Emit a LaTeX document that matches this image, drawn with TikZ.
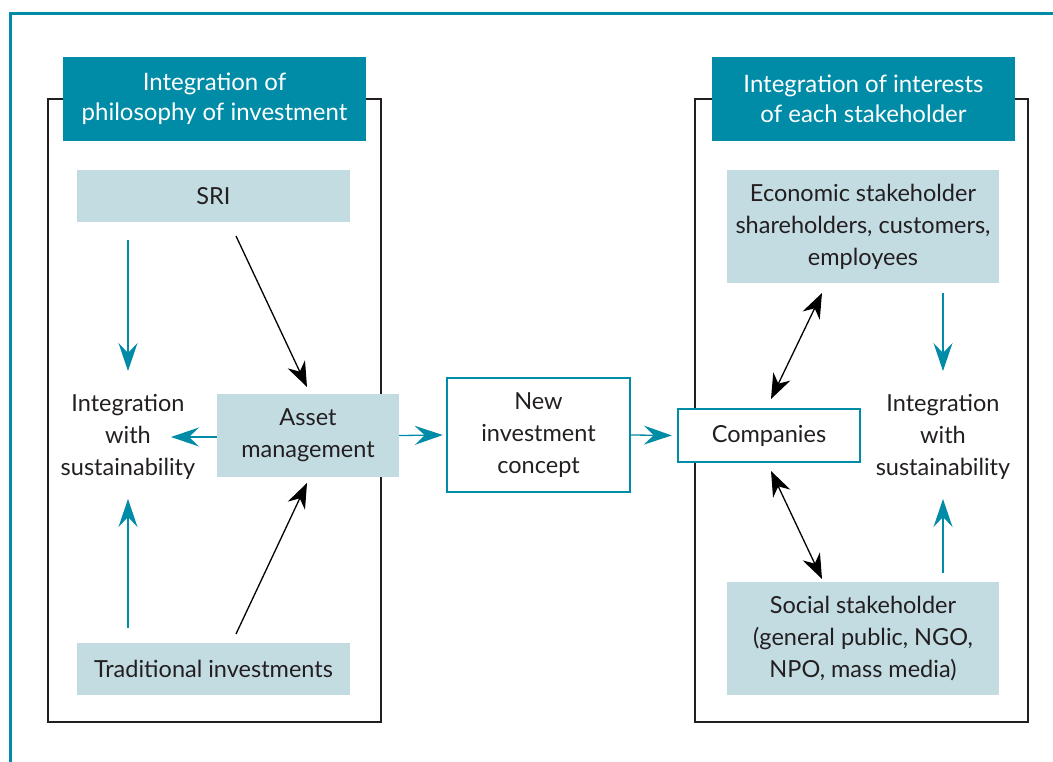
\documentclass[tikz,border=0pt]{standalone}
\usepackage{fontspec}
\setmainfont{Lato}
\usetikzlibrary{arrows.meta}
\definecolor{teal1}{RGB}{0,139,166}
\definecolor{lightb}{RGB}{194,220,226}
\definecolor{dk}{RGB}{35,31,32}
\tikzset{
  hdr/.style={fill=teal1, text=white, minimum width=303pt, minimum height=84pt, align=center, inner sep=0pt, font=\fontsize{24}{30}\selectfont},
  panel/.style={draw=dk, line width=1.3pt, inner sep=0pt},
  lbox/.style={fill=lightb, text=dk, align=center, inner sep=0pt, font=\fontsize{23.5}{32}\selectfont},
  tbox/.style={draw=teal1, line width=2.4pt, fill=white, text=dk, align=center, inner sep=0pt, font=\fontsize{23.5}{32}\selectfont},
  plain/.style={text=dk, align=center, inner sep=0pt, font=\fontsize{23.5}{32}\selectfont},
  tarr/.style={draw=teal1, line width=1.3pt, -{Stealth[length=28pt, width=19pt, inset=10pt]}},
  barr/.style={draw=black, line width=1.3pt, -{Stealth[length=25pt, width=19pt, inset=8pt]}},
  bdarr/.style={draw=black, line width=1.3pt, {Stealth[length=25pt, width=19pt, inset=8pt]}-{Stealth[length=25pt, width=19pt, inset=8pt]}},
}
\begin{document}
\begin{tikzpicture}[x=1pt, y=-1pt]
\useasboundingbox (0,0) rectangle (1053,762);
% outer frame
\draw[teal1, line width=3pt] (10,770) -- (10,13.5) -- (1060,13.5);
% panels
\node[panel, minimum width=333pt, minimum height=623pt] (panelL) at (214.5,410.5) {};
\node[panel, minimum width=333pt, minimum height=623pt] (panelR) at (861.5,410.5) {};
% headers
\node[hdr] (hdrL) at (214.5,99) {Integration of\\philosophy of investment};
\node[hdr] (hdrR) at (863.5,99) {Integration of interests\\of each stakeholder};
% left panel boxes
\node[lbox, minimum width=273pt, minimum height=52pt] (sri) at (213.5,196) {SRI};
\node[lbox, minimum width=273pt, minimum height=52pt] (trad) at (213.5,669) {Traditional investments};
\node[lbox, minimum width=182pt, minimum height=83pt] (asset) at (308,435.5) {Asset\\management};
\node[plain] (intL) at (128,437) {Integration\\with\\sustainability};
% middle
\node[tbox, minimum width=183pt, minimum height=114pt] (newc) at (538.5,435) {New\\investment\\concept};
\node[tbox, minimum width=182pt, minimum height=53pt] (comp) at (769,435.5) {Companies};
% right panel boxes
\node[lbox, minimum width=272pt, minimum height=113pt] (econ) at (863,226.5) {Economic stakeholder\\shareholders, customers,\\employees};
\node[lbox, minimum width=272pt, minimum height=113pt] (social) at (863,638.5) {Social stakeholder\\(general public, NGO,\\NPO, mass media)};
\node[plain] (intR) at (943,437) {Integration\\with\\sustainability};
% coordinates
\coordinate (l1s) at (128,240); \coordinate (l1e) at (128,371);
\coordinate (l2s) at (128,628); \coordinate (l2e) at (128,499);
\coordinate (lhe) at (171,437);
\coordinate (s1) at (236,236); \coordinate (s1e) at (307,387);
\coordinate (t1) at (236,634); \coordinate (t1e) at (307,483);
\coordinate (r1s) at (943,293); \coordinate (r1e) at (943,371);
\coordinate (r2s) at (943,573); \coordinate (r2e) at (943,499);
\coordinate (c1a) at (771,399); \coordinate (c1b) at (822,293);
\coordinate (c2a) at (771,471); \coordinate (c2b) at (822,579);
% arrows
\draw[tarr] (l1s) -- (l1e);
\draw[tarr] (l2s) -- (l2e);
\draw[tarr] (asset.west |- lhe) -- (lhe);
\draw[barr] (s1) -- (s1e);
\draw[barr] (t1) -- (t1e);
\draw[tarr, shorten >=3pt] (asset.east) -- (newc.west);
\draw[tarr, shorten >=5pt] (newc.east) -- (comp.west);
\draw[tarr] (r1s) -- (r1e);
\draw[tarr] (r2s) -- (r2e);
\draw[bdarr] (c1a) -- (c1b);
\draw[bdarr] (c2a) -- (c2b);
\end{tikzpicture}
\end{document}
